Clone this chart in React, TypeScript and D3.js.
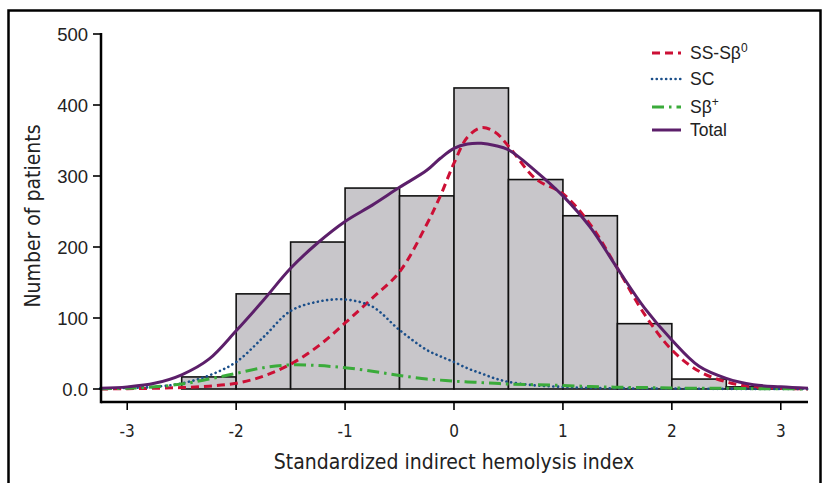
import React from "react";
import * as d3 from "d3";

// histogram bins (left edge, width 0.5)
const binStarts = [-2.5, -2, -1.5, -1, -0.5, 0, 0.5, 1, 1.5, 2, 2.5];
const binCounts = [17, 134, 207, 283, 272, 424, 295, 244, 92, 14, 3];

// density curves sampled along the index
const curveX = [-3.25, -3, -2.75, -2.5, -2.25, -2, -1.75, -1.5, -1.25, -1, -0.75, -0.5, -0.25, -0.125, 0, 0.125, 0.25, 0.375, 0.5, 0.75, 1, 1.25, 1.5, 1.75, 2, 2.25, 2.5, 2.75, 3, 3.25];
const ssValues = [0, 0.5, 1, 2, 4, 8, 18, 35, 60, 93, 128, 165, 232, 272, 318, 355, 368, 362, 342, 296, 275, 232, 170, 105, 55, 25, 10, 3, 1, 0];
const scValues = [0.5, 1.5, 3, 8, 19, 38, 73, 110, 123, 126, 116, 83, 55, 46, 38, 29, 22, 15, 10, 5, 3, 1.5, 1, 0.7, 0.5, 0.3, 0.2, 0.1, 0, 0];
const sbValues = [0.5, 1, 3, 7, 14, 22, 30, 34, 33, 30, 25, 19, 14, 12.5, 11, 10, 9, 8, 7, 6, 5, 3.5, 2.5, 2, 1.5, 1, 1, 0.5, 0.5, 0];
const totalValues = [1, 3, 8, 20, 42, 82, 125, 170, 206, 236, 259, 284, 308, 325, 339, 345, 346, 343, 337, 307, 272, 228, 170, 114, 69, 32, 15, 6, 3, 1];

const xTicks = [-3, -2, -1, 0, 1, 2, 3];
const yTicks = [0, 100, 200, 300, 400, 500];

const series = [
  { key: "ss", label: "SS-Sβ", sup: "0", values: ssValues, color: "#cc0f35", width: 3, dash: "8 5", cap: "butt" },
  { key: "sc", label: "SC", sup: "", values: scValues, color: "#1b4f8a", width: 2.6, dash: "0.1 4.6", cap: "round" },
  { key: "sb", label: "Sβ", sup: "+", values: sbValues, color: "#3aab3a", width: 3, dash: "12 5 2.5 5", cap: "butt" },
  { key: "total", label: "Total", sup: "", values: totalValues, color: "#5c1f6a", width: 3, dash: "", cap: "butt" },
];

const W = 823;
const H = 483;
const narrow = "'Liberation Sans Narrow', 'DejaVu Sans Condensed', 'Liberation Sans', Arial, sans-serif";
const sans = "'Liberation Sans', Arial, Helvetica, sans-serif";

export default function App() {
  const x = d3.scaleLinear().domain([-3.25, 3.25]).range([100, 808]);
  const y = d3.scaleLinear().domain([0, 500]).range([389, 34]);
  const axisY = 402;
  const axisX = 101;

  const line = d3
    .line<number>()
    .x((_, i) => x(curveX[i]))
    .y((d) => y(Math.max(0, d)))
    .curve(d3.curveCatmullRom.alpha(0.5));

  return (
    <svg width={W} height={H} style={{ position: "absolute", left: 0, top: 0, display: "block", background: "#fff" }}>
      <rect x={8.5} y={10.5} width={812} height={490} fill="none" stroke="#000" strokeWidth={2.5} />

      {/* bars */}
      {binStarts.map((b, i) => (
        <rect
          key={b}
          x={x(b)}
          y={y(binCounts[i])}
          width={x(b + 0.5) - x(b)}
          height={y(0) - y(binCounts[i])}
          fill="#c8c6ca"
          stroke="#111"
          strokeWidth={1.6}
        />
      ))}

      {/* curves */}
      {series.map((s) => (
        <path
          key={s.key}
          d={line(s.values) || ""}
          fill="none"
          stroke={s.color}
          strokeWidth={s.width}
          strokeDasharray={s.dash || undefined}
          strokeLinecap={s.cap as any}
        />
      ))}

      {/* axes */}
      <line x1={axisX} x2={axisX} y1={y(500) - 1} y2={axisY + 1.2} stroke="#000" strokeWidth={2.5} />
      <line x1={axisX} x2={808} y1={axisY} y2={axisY} stroke="#000" strokeWidth={2.5} />
      {yTicks.map((t) => (
        <g key={t}>
          <line x1={axisX - 8} x2={axisX} y1={y(t)} y2={y(t)} stroke="#000" strokeWidth={1.6} />
          <text x={88} y={y(t) + 6.5} textAnchor="end" fontFamily={sans} fontSize={18.5} fill="#222">
            {t === 0 ? "0.0" : t}
          </text>
        </g>
      ))}
      {xTicks.map((t) => (
        <g key={t}>
          <line x1={x(t)} x2={x(t)} y1={axisY} y2={axisY + 8} stroke="#000" strokeWidth={1.6} />
          <text x={x(t)} y={437} textAnchor="middle" fontFamily={narrow} fontSize={17} fill="#222">
            {t}
          </text>
        </g>
      ))}

      <text x={454} y={469} textAnchor="middle" fontFamily={narrow} fontSize={21} fill="#222">
        Standardized indirect hemolysis index
      </text>
      <text
        transform="translate(40,216) rotate(-90)"
        textAnchor="middle"
        fontFamily={narrow}
        fontSize={21}
        fill="#222"
      >
        Number of patients
      </text>

      {/* legend */}
      {series.map((s, i) => {
        const ly = [53, 79, 107, 130][i];
        return (
          <g key={s.key}>
            <line
              x1={652}
              x2={681}
              y1={ly}
              y2={ly}
              stroke={s.color}
              strokeWidth={s.width}
              strokeDasharray={s.dash || undefined}
              strokeLinecap={s.cap as any}
            />
            <text x={690} y={ly + 6} fontFamily={sans} fontSize={17.5} fill="#222">
              {s.label}
              {s.sup && (
                <tspan dy={-7} fontSize={12}>
                  {s.sup}
                </tspan>
              )}
            </text>
          </g>
        );
      })}
    </svg>
  );
}
